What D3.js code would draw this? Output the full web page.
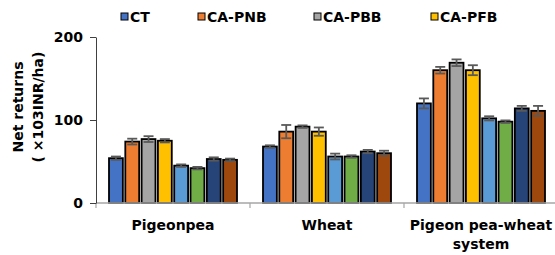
<!DOCTYPE html>
<html>
<head>
<meta charset="utf-8">
<script src="https://cdn.jsdelivr.net/npm/d3@7"></script>
<style>
  body { margin: 0; background: #fff; }
  text { font-family: "DejaVu Sans", Verdana, sans-serif; font-weight: bold; }
</style>
</head>
<body>
<script>
// groups on the x axis
const groups = ["Pigeonpea", "Wheat", "Pigeon pea-wheat system"];
// series (only the first four are in the legend)
const series = ["CT", "CA-PNB", "CA-PBB", "CA-PFB", "S5", "S6", "S7", "S8"];
const legendSeries = ["CT", "CA-PNB", "CA-PBB", "CA-PFB"];
const colors = ["#4472C4", "#ED7D31", "#A5A5A5", "#FFC000", "#5B9BD5", "#70AD47", "#264478", "#9E480E"];

// net returns per group, one value per series
const pigeonpea = [54, 74, 77, 75, 45, 42, 53, 52];
const wheat = [68, 86, 92, 86, 56, 56, 62, 60];
const system = [120, 160, 169, 160, 102, 98, 114, 111];
// standard errors
const pigeonpeaErr = [2, 3.5, 3.5, 2, 1.5, 1.5, 2, 1.5];
const wheatErr = [1.5, 8, 1.5, 5, 3.5, 1.5, 2, 3];
const systemErr = [6, 4, 4, 6, 2.5, 1.5, 3, 6];

const yTicks = [0, 100, 200];

const values = [pigeonpea, wheat, system];
const errors = [pigeonpeaErr, wheatErr, systemErr];

const margin = { top: 37, left: 96 };
const width = 462, height = 166;

const svg = d3.select("body").append("svg")
  .attr("width", 555).attr("height", 255);

const g = svg.append("g").attr("transform", `translate(${margin.left},${margin.top})`);

const x0 = d3.scaleBand().domain(groups).range([0, width]);
const x1 = d3.scaleBand().domain(series).range([13, x0.bandwidth() - 13]).paddingInner(0.15);
const y = d3.scaleLinear().domain([0, 200]).range([height, 0]);

// bars
const grp = g.selectAll("g.grp").data(groups).join("g")
  .attr("class", "grp")
  .attr("transform", d => `translate(${x0(d)},0)`);

grp.each(function (gname, gi) {
  const sel = d3.select(this);
  const rows = series.map((s, i) => ({ s, i, v: values[gi][i], e: errors[gi][i] }));
  sel.selectAll("rect").data(rows).join("rect")
    .attr("x", d => x1(d.s))
    .attr("y", d => y(d.v))
    .attr("width", x1.bandwidth())
    .attr("height", d => y(0) - y(d.v))
    .attr("fill", d => colors[d.i])
    .attr("stroke", "#000")
    .attr("stroke-width", 1.8);

  const eb = sel.selectAll("g.err").data(rows).join("g").attr("class", "err")
    .attr("stroke", "#595959").attr("stroke-width", 1.8);
  const cx = d => x1(d.s) + x1.bandwidth() / 2;
  eb.append("line")
    .attr("x1", cx).attr("x2", cx)
    .attr("y1", d => y(d.v + d.e)).attr("y2", d => y(d.v - d.e));
  eb.append("line")
    .attr("x1", d => cx(d) - 5).attr("x2", d => cx(d) + 5)
    .attr("y1", d => y(d.v + d.e)).attr("y2", d => y(d.v + d.e));
  eb.append("line")
    .attr("x1", d => cx(d) - 5).attr("x2", d => cx(d) + 5)
    .attr("y1", d => y(d.v - d.e)).attr("y2", d => y(d.v - d.e));
});

// x axis (gray line with ticks at group boundaries)
const xAxis = g.append("g").attr("transform", `translate(0,${height})`);
xAxis.append("line").attr("x1", 0).attr("x2", width)
  .attr("stroke", "#A6A6A6").attr("stroke-width", 1.5);
xAxis.selectAll("line.tk").data(groups).join("line").attr("class", "tk")
  .attr("x1", d => x0(d)).attr("x2", d => x0(d))
  .attr("y1", 0).attr("y2", 5)
  .attr("stroke", "#A6A6A6").attr("stroke-width", 1.2);

// category labels
groups.forEach(gname => {
  const cx = x0(gname) + x0.bandwidth() / 2;
  const lines = gname === "Pigeon pea-wheat system" ? ["Pigeon pea-wheat", "system"] : [gname];
  lines.forEach((t, k) => {
    g.append("text").attr("x", cx).attr("y", height + 27 + k * 19)
      .attr("text-anchor", "middle").attr("font-size", 14).attr("fill", "#000")
      .text(t);
  });
});

// y axis
const yAxis = g.append("g")
  .call(d3.axisLeft(y).tickValues(yTicks).tickSize(6).tickPadding(7).tickSizeOuter(0));
yAxis.select(".domain").attr("stroke", "#404040").attr("stroke-width", 1);
yAxis.selectAll(".tick line").attr("stroke", "#404040");
yAxis.selectAll(".tick text")
  .attr("font-size", 14).attr("font-family", "DejaVu Sans, Verdana, sans-serif")
  .attr("font-weight", "bold").attr("fill", "#000");

// y axis title
const yt = svg.append("g").attr("transform", "translate(0,107) rotate(-90)");
yt.append("text").attr("x", 0).attr("y", 18).attr("dy", "0.35em")
  .attr("text-anchor", "middle").attr("font-size", 14).text("Net returns");
yt.append("text").attr("x", 0).attr("y", 38).attr("dy", "0.35em")
  .attr("text-anchor", "middle").attr("font-size", 14).text("( ×103INR/ha)");

// legend
const legendX = [121, 198, 314, 431];
const lg = svg.selectAll("g.lg").data(legendSeries).join("g").attr("class", "lg")
  .attr("transform", (d, i) => `translate(${legendX[i]},17)`);
lg.append("rect").attr("x", 0).attr("y", -4).attr("width", 7).attr("height", 7)
  .attr("fill", (d, i) => colors[i]).attr("stroke", "#000").attr("stroke-width", 1);
lg.append("text").attr("x", 9).attr("y", 0).attr("dy", "0.35em")
  .attr("font-size", 14).text(d => d);
</script>
</body>
</html>
